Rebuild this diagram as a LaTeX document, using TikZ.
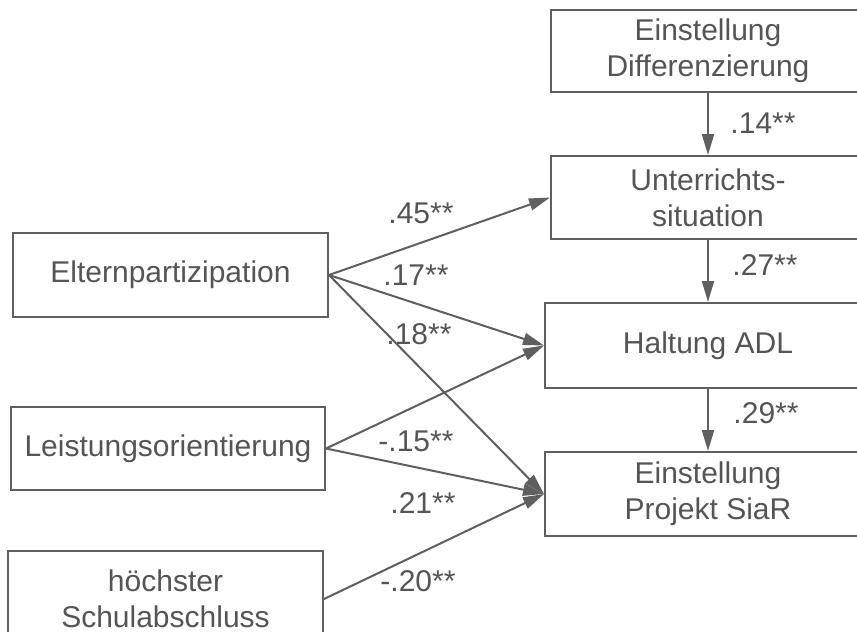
\documentclass[tikz,border=0pt]{standalone}
\usepackage{fontspec}
\setmainfont{Liberation Sans}
\usetikzlibrary{arrows.meta}
\definecolor{linegray}{RGB}{95,95,95}
\definecolor{textgray}{RGB}{85,85,85}
\begin{document}
\begin{tikzpicture}[x=1pt,y=-1pt,
  box/.style={draw=linegray, line width=2pt, inner sep=0pt, align=center, text=textgray,
    font=\fontsize{30}{36}\selectfont},
  conn/.style={draw=linegray, line width=2pt, -{Triangle[length=21pt,width=12pt]}},
  lbl/.style={text=textgray, font=\fontsize{30}{36}\selectfont, inner sep=0pt}]
\useasboundingbox (0,0) rectangle (857,632);
\fill[white] (0,0) rectangle (857,632);
% right column
\node[box, minimum width=314pt, minimum height=82pt] (ed) at (708,51) {Einstellung\\Differenzierung};
\node[box, minimum width=314pt, minimum height=83pt] (us) at (708,197.5) {Unterrichts-\\situation};
\node[box, minimum width=326pt, minimum height=85pt] (ha) at (708,345.5) {Haltung ADL};
\node[box, minimum width=326pt, minimum height=84pt] (pr) at (708,494) {Einstellung\\Projekt SiaR};
% left column
\node[box, minimum width=315pt, minimum height=84pt] (el) at (170.5,275) {Elternpartizipation};
\node[box, minimum width=314pt, minimum height=83pt] (le) at (168,448.5) {Leistungsorientierung};
\node[box, minimum width=315pt, minimum height=96pt] (hs) at (165.5,599) {höchster\\Schulabschluss};
% connectors
\draw[conn] (ed.south) -- (us.north);
\draw[conn] (us.south) -- (ha.north);
\draw[conn] (ha.south) -- (pr.north);
\draw[conn] (el.east) -- (us.west);
\draw[conn] (el.east) -- (ha.west);
\draw[conn] (el.east) -- (pr.west);
\draw[conn] (le.east) -- (ha.west);
\draw[conn] (le.east) -- (pr.west);
\draw[conn] (hs.east) -- (pr.west);
% labels
\node[lbl] (l45) at (421,213) {.45**};
\node[lbl] (l17) at (416,275) {.17**};
\node[lbl] (l18) at (419,334) {.18**};
\node[lbl] (l15) at (416,441) {-.15**};
\node[lbl] (l21) at (423,503) {.21**};
\node[lbl] (l20) at (418,581) {-.20**};
\node[lbl] (l14) at (763,123) {.14**};
\node[lbl] (l27) at (765,265) {.27**};
\node[lbl] (l29) at (766,413) {.29**};
\end{tikzpicture}
\end{document}
